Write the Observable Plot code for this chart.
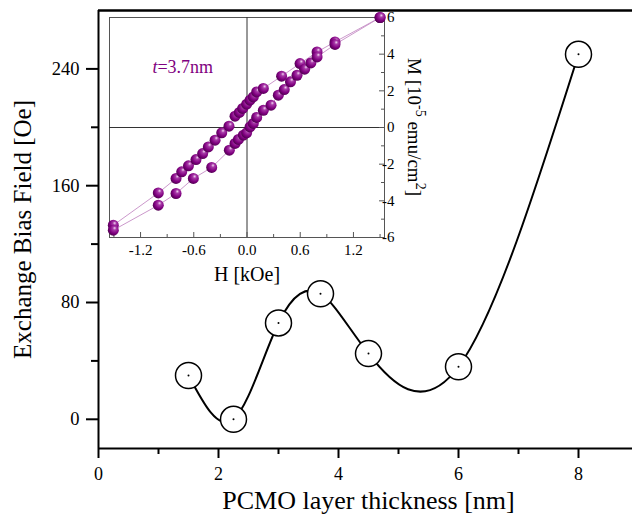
<!DOCTYPE html>
<html>
<head>
<meta charset="utf-8">
<script src="https://cdn.jsdelivr.net/npm/d3@7"></script>
<script src="https://cdn.jsdelivr.net/npm/@observablehq/plot@0.6"></script>
<style>
  body { margin: 0; background: #fff; }
  #wrap { position: relative; width: 632px; height: 516px; overflow: hidden; background: #fff; }
  #wrap svg { position: absolute; }
  #wrap svg text { font-family: "Liberation Serif", "Times New Roman", serif !important; }
</style>
</head>
<body>
<div id="wrap"></div>
<script>
// ---------- main chart data ----------
const thickness = [1.5, 2.25, 3, 3.7, 4.5, 6, 8];
const biasField = [30, 0, 66, 86, 45, 36, 250];
const mainXTicks = [0, 2, 4, 6, 8];
const mainXMinor = [1, 3, 5, 7];
const mainYTicks = [0, 80, 160, 240];
const mainYMinor = [40, 120, 200];

// ---------- inset data (hysteresis loop, t = 3.7 nm) ----------
const upperH = [-1.507, -1.0, -0.80, -0.736, -0.66, -0.575, -0.50, -0.436, -0.36, -0.285, -0.203, -0.135, -0.086, -0.049, -0.004, 0.034, 0.071, 0.109, 0.184, 0.39, 0.598, 0.79, 0.992, 1.5];
const upperM = [-5.33, -3.57, -2.78, -2.42, -2.09, -1.75, -1.42, -1.06, -0.69, -0.29, 0.07, 0.62, 0.82, 1.04, 1.27, 1.49, 1.67, 1.94, 2.13, 2.80, 3.49, 4.12, 4.67, 6.0];
const lowerH = [-1.507, -1.0, -0.80, -0.605, -0.398, -0.199, -0.135, -0.097, -0.041, -0.004, 0.034, 0.071, 0.109, 0.184, 0.271, 0.353, 0.42, 0.49, 0.564, 0.65, 0.72, 0.79, 0.992, 1.5];
const lowerM = [-5.6, -4.24, -3.6, -2.78, -2.18, -1.24, -0.87, -0.65, -0.42, -0.29, 0.03, 0.22, 0.55, 0.94, 1.22, 1.76, 2.07, 2.49, 2.85, 3.18, 3.52, 3.85, 4.53, 6.0];
const insetXTicks = [-1.2, -0.6, 0, 0.6, 1.2];
const insetXTickLabels = ["-1.2", "-0.6", "0.0", "0.6", "1.2"];
const insetXMinor = [-1.5, -0.9, -0.3, 0.3, 0.9, 1.5];
const insetYTicks = [-6, -4, -2, 0, 2, 4, 6];
const insetYMinor = [-5, -3, -1, 1, 3, 5];

const FONT = '"Liberation Serif", "Times New Roman", serif';

const mainData = thickness.map((t, i) => ({t, b: biasField[i]}));
const upper = upperH.map((h, i) => ({h, m: upperM[i]}));
const lower = lowerH.map((h, i) => ({h, m: lowerM[i]}));

const main = Plot.plot({
  width: 632, height: 516,
  marginLeft: 98, marginRight: 0, marginTop: 10, marginBottom: 68,
  x: {domain: [0, 8.9]},
  y: {domain: [-20, 280]},
  style: {fontFamily: FONT, background: "white", color: "black", overflow: "visible"},
  marks: [
    Plot.ruleX([0], {stroke: "black", strokeWidth: 2}),
    Plot.ruleY([-20], {stroke: "black", strokeWidth: 2}),
    Plot.ruleY([280], {stroke: "black", strokeWidth: 2.5}),
    Plot.axisX(mainXTicks, {tickSize: 10, tickPadding: 9, fontSize: 18, fontFamily: FONT, strokeWidth: 2, label: null, tickFormat: d => String(d)}),
    Plot.axisX(mainXMinor, {tickSize: 6, strokeWidth: 2, label: null, tickFormat: () => ""}),
    Plot.axisY(mainYTicks, {tickSize: 12, tickPadding: 7, fontSize: 18.5, fontFamily: FONT, strokeWidth: 2, label: null, tickFormat: d => String(d)}),
    Plot.axisY(mainYMinor, {tickSize: 7, strokeWidth: 2, label: null, tickFormat: () => ""}),
    Plot.line(mainData, {x: "t", y: "b", curve: "natural", stroke: "black", strokeWidth: 2}),
    Plot.dot(mainData, {x: "t", y: "b", r: 13, fill: "white", stroke: "black", strokeWidth: 1.5}),
    Plot.dot(mainData, {x: "t", y: "b", r: 1, fill: "black"}),
    Plot.text(["PCMO layer thickness [nm]"], {frameAnchor: "bottom", dx: 3, dy: 52, fontSize: 26, fontFamily: FONT, lineAnchor: "middle"}),
    Plot.text(["Exchange Bias Field [Oe]"], {frameAnchor: "left", dx: -76, rotate: -90, textAnchor: "middle", fontSize: 25, fontFamily: FONT, lineAnchor: "middle"})
  ]
});
main.style.left = "0px";
main.style.top = "0px";

const insetFrameH = 220, insetFrameW = 275;
const inset = Plot.plot({
  width: 340, height: 290,
  marginLeft: 9, marginRight: 56, marginTop: 17, marginBottom: 53,
  x: {domain: [-1.55, 1.55]},
  y: {domain: [-6, 6]},
  style: {fontFamily: FONT, background: "transparent", color: "black", overflow: "visible"},
  marks: [
    Plot.frame({fill: "white", stroke: "#555", strokeWidth: 1}),
    Plot.ruleX([0], {stroke: "#333", strokeWidth: 1}),
    Plot.ruleY([0], {stroke: "#333", strokeWidth: 1}),
    Plot.tickX(insetXTicks, {x: d => d, insetTop: insetFrameH - 5, stroke: "#555"}),
    Plot.tickX(insetXMinor, {x: d => d, insetTop: insetFrameH - 3, stroke: "#555"}),
    Plot.tickY(insetYTicks, {y: d => d, insetLeft: insetFrameW - 5, stroke: "#555"}),
    Plot.tickY(insetYMinor, {y: d => d, insetLeft: insetFrameW - 3, stroke: "#555"}),
    Plot.line(upper, {x: "h", y: "m", stroke: "#c58cc5", strokeWidth: 0.9}),
    Plot.line(lower, {x: "h", y: "m", stroke: "#c58cc5", strokeWidth: 0.9}),
    Plot.dot(upper, {x: "h", y: "m", r: 5.5, fill: "url(#sphere)"}),
    Plot.dot(lower, {x: "h", y: "m", r: 5.5, fill: "url(#sphere)"}),
    Plot.axisX(insetXTicks, {tickSize: 0, tickPadding: 7, fontSize: 15, fontFamily: FONT, label: null,
      tickFormat: d => insetXTickLabels[insetXTicks.indexOf(d)]}),
    Plot.axisY(insetYTicks, {anchor: "right", tickSize: 0, tickPadding: 10, textAnchor: "end", fontSize: 15, fontFamily: FONT, label: null,
      tickFormat: d => String(d)}),
    Plot.text(["H [kOe]"], {frameAnchor: "bottom", dx: 0, dy: 37, fontSize: 20, fontFamily: FONT, lineAnchor: "middle"})
  ]
});
inset.style.left = "100px";
inset.style.top = "0px";

// sphere gradient for markers
const isvg = d3.select(inset);
const defs = isvg.insert("defs", ":first-child");
const g = defs.append("radialGradient").attr("id", "sphere")
  .attr("cx", "0.6").attr("cy", "0.4").attr("r", "0.65").attr("fx", "0.62").attr("fy", "0.3");
g.append("stop").attr("offset", "0%").attr("stop-color", "#f2d9f2");
g.append("stop").attr("offset", "25%").attr("stop-color", "#a83aa8");
g.append("stop").attr("offset", "65%").attr("stop-color", "#800080");
g.append("stop").attr("offset", "100%").attr("stop-color", "#4a004a");

// annotation "t=3.7nm"
const sx = inset.scale("x"), sy = inset.scale("y");
const ann = isvg.append("text")
  .attr("x", sx.apply(-1.06)).attr("y", sy.apply(2.96))
  .attr("text-anchor", "start")
  .attr("fill", "#800080").attr("font-size", 18).attr("font-family", FONT);
ann.append("tspan").attr("font-style", "italic").text("t");
ann.append("tspan").text("=3.7nm");

// inset y-axis title with superscripts
const yt = isvg.append("text")
  .attr("transform", `translate(${284 + 30},${sy.apply(0)}) rotate(90)`)
  .attr("text-anchor", "middle").attr("font-size", 19).attr("font-family", FONT)
  .attr("dy", "0.32em");
yt.append("tspan").text("M [10");
yt.append("tspan").attr("dy", -8).attr("font-size", 14).text("-5");
yt.append("tspan").attr("dy", 8).text(" emu/cm");
yt.append("tspan").attr("dy", -8).attr("font-size", 14).text("2");
yt.append("tspan").attr("dy", 8).text("]");

const wrap = document.getElementById("wrap");
wrap.appendChild(main);
wrap.appendChild(inset);
</script>
</body>
</html>
